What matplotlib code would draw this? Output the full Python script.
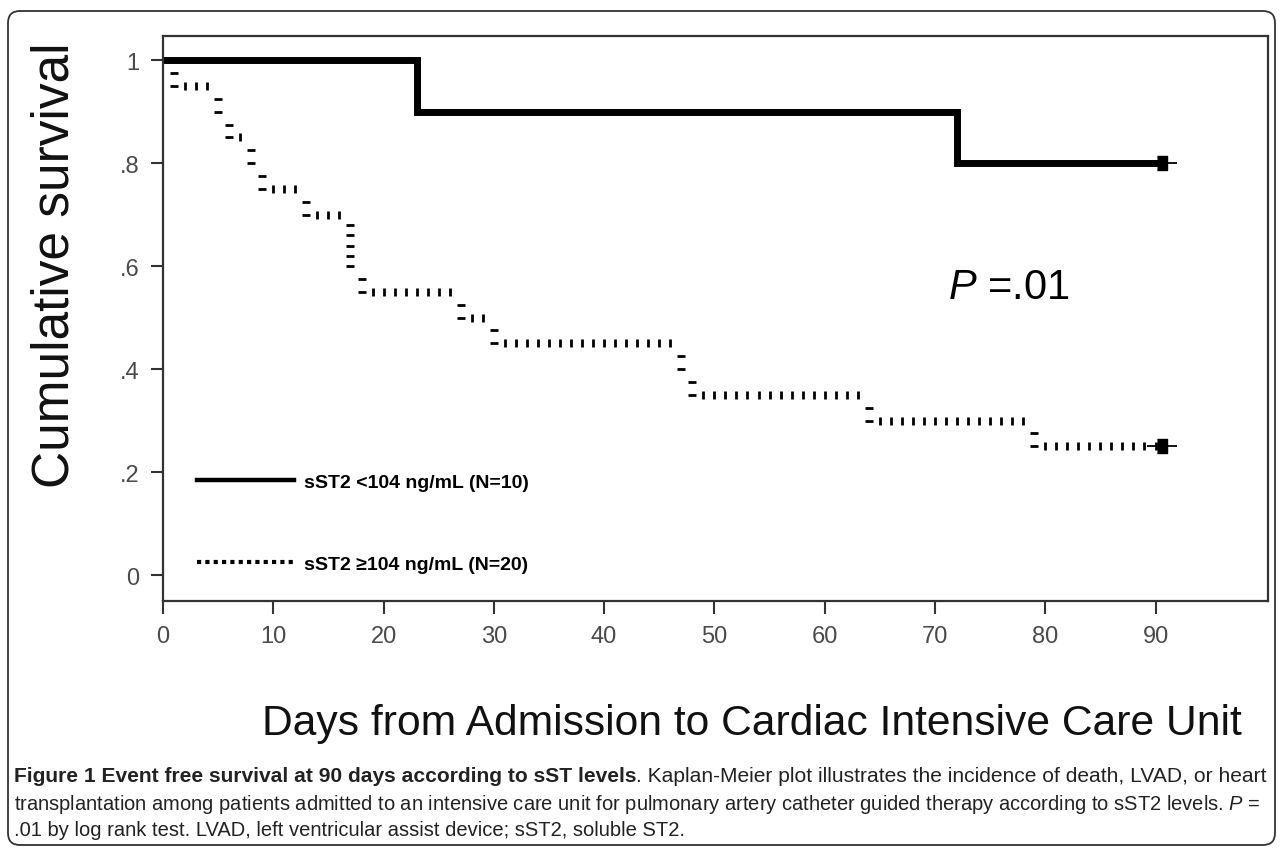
import numpy as np
import matplotlib
matplotlib.use('Agg')
import matplotlib.pyplot as plt
from matplotlib import font_manager
from matplotlib.lines import Line2D
from matplotlib.patches import FancyBboxPatch

# Kaplan-Meier steps (days, survival)
low_times = [0, 23, 72]
low_surv = [1.0, 0.9, 0.8]
high_times = [0, 1, 5, 6, 8, 9, 13, 17, 18, 27, 30, 47, 48, 64, 79]
high_surv = [1.0, 0.95, 0.90, 0.85, 0.80, 0.75, 0.70, 0.60, 0.55, 0.50, 0.45, 0.40, 0.35, 0.30, 0.25]
censor_day = 90.6   # last follow-up (cluster of censored cases)

x_ticks = [0, 10, 20, 30, 40, 50, 60, 70, 80, 90]
y_ticks = [0, 0.2, 0.4, 0.6, 0.8, 1.0]
y_ticklabels = ['0', '.2', '.4', '.6', '.8', '1']

labels = ['sST2 <104 ng/mL (N=10)', 'sST2 \u2265104 ng/mL (N=20)']
x_label = 'Days from Admission to Cardiac Intensive Care Unit'
y_label = 'Cumulative survival'
p_text = r'$P$ =.01'

cap_bold = 'Figure 1 Event free survival at 90 days according to sST levels'
cap_rest1 = '. Kaplan-Meier plot illustrates the incidence of death, LVAD, or heart'
cap_line2 = ('transplantation among patients admitted to an intensive care unit for pulmonary '
             'artery catheter guided therapy according to sST2 levels. $P$ =')
cap_line3 = '.01 by log rank test. LVAD, left ventricular assist device; sST2, soluble ST2.'

names = {f.name for f in font_manager.fontManager.ttflist}
cap_font = 'Liberation Sans Narrow' if 'Liberation Sans Narrow' in names else 'Liberation Sans'

plt.rcParams['font.family'] = ['Liberation Sans', 'DejaVu Sans']
plt.rcParams['mathtext.fontset'] = 'custom'
plt.rcParams['mathtext.rm'] = 'Liberation Sans'
plt.rcParams['mathtext.it'] = 'Liberation Sans:italic'

W, H = 1282, 853
fig = plt.figure(figsize=(W / 100, H / 100), dpi=100)
ax = fig.add_axes([163 / W, 1 - 602 / H, 1105 / W, 565 / H])
ax.set_xlim(0, 100.2)
ax.set_ylim(-0.0505, 1.047)

# solid group: thick step line
ax.step(low_times + [censor_day], low_surv + [low_surv[-1]], where='post',
        color='black', lw=5, solid_joinstyle='miter')

# dotted group: SPSS-style dots -> small ticks across each run
t_end = high_times[1:] + [censor_day]
for i, (t0, s) in enumerate(zip(high_times, high_surv)):
    if i == 0:
        continue  # hidden under the solid line
    t1 = t_end[i]
    xs = np.arange(np.floor(t0) + 1, t1 - 0.4, 1.0)
    ax.plot(xs, np.full(len(xs), s), ls='none', marker='|', ms=5.5, mew=2, color='black')
    prev = high_surv[i - 1]
    n = max(2, int(round((prev - s) / 0.022)))
    ys = np.linspace(prev, s, n + 1)[1:]
    ax.plot(np.full(len(ys), t0), ys, ls='none', marker='_', ms=5.5, mew=2, color='black')

# censor clusters at end of follow-up
rect = [(-0.7, -1), (0.7, -1), (0.7, 1), (-0.7, 1)]
for s in (low_surv[-1], high_surv[-1]):
    ax.plot([censor_day], [s], ls='none', marker='_', ms=21, mew=1.3, color='black')
    ax.plot([censor_day], [s], ls='none', marker=rect, ms=9.5, color='black')

ax.text(71.2, 0.56, p_text, fontsize=30, ha='left', va='center')

handles = [Line2D([], [], color='black', lw=3.2),
           Line2D([], [], color='black', lw=3, ls=(0, (1, 1)))]
leg = ax.legend(handles, labels, loc='lower left', bbox_to_anchor=(0.031, 0.05),
                frameon=False, prop={'weight': 'bold', 'size': 14},
                handlelength=5.0, handletextpad=0.5, labelspacing=3.3,
                borderpad=0, borderaxespad=0)

ax.set_xticks(x_ticks)
ax.set_yticks(y_ticks)
ax.set_yticklabels(y_ticklabels)
ax.tick_params(axis='both', direction='out', length=9, width=1.5, colors='#333333',
               labelsize=17, labelcolor='#4a4a4a', pad=8)
for sp in ax.spines.values():
    sp.set_color('#333333')
    sp.set_linewidth(1.6)

fig.text(752 / W, 1 - 724 / H, x_label, fontsize=30.7, ha='center', va='center', color='#111111')
fig.text(55 / W, 1 - 265 / H, y_label, fontsize=37, rotation=90, ha='center', va='center',
         color='#111111')

# outer rounded frame
frame = FancyBboxPatch((0.08, 0.07), 12.67, 8.34, boxstyle='round,pad=0,rounding_size=0.12',
                       transform=fig.dpi_scale_trans, fill=False, ec='#333333', lw=1.3)
fig.patches.append(frame)


def fit_size(texts, target):
    # scale font so the pieces together span the target width in pixels
    w = sum(t.get_window_extent(renderer).width for t in texts)
    size = texts[0].get_fontsize() * target / w
    for t in texts:
        t.set_fontsize(size)
    return size


# caption, sized to the widths of the original lines
renderer = fig.canvas.get_renderer()
tb = fig.text(14 / W, 1 - 777 / H, cap_bold, family=cap_font, weight='bold', fontsize=10,
              va='center', color='#222222')
tr = fig.text(0, 1 - 777 / H, cap_rest1, family=cap_font, fontsize=10, va='center',
              color='#222222')
fit_size([tb, tr], 1256)
tr.set_x(tb.get_window_extent(renderer).x1 / W)
t2 = fig.text(14 / W, 1 - 805 / H, cap_line2, family=cap_font, fontsize=10, va='center',
              color='#222222')
s2 = fit_size([t2], 1246)
t3 = fig.text(14 / W, 1 - 831 / H, cap_line3, family=cap_font, fontsize=s2, va='center',
              color='#222222')

fig.savefig('out.png', dpi=100)
